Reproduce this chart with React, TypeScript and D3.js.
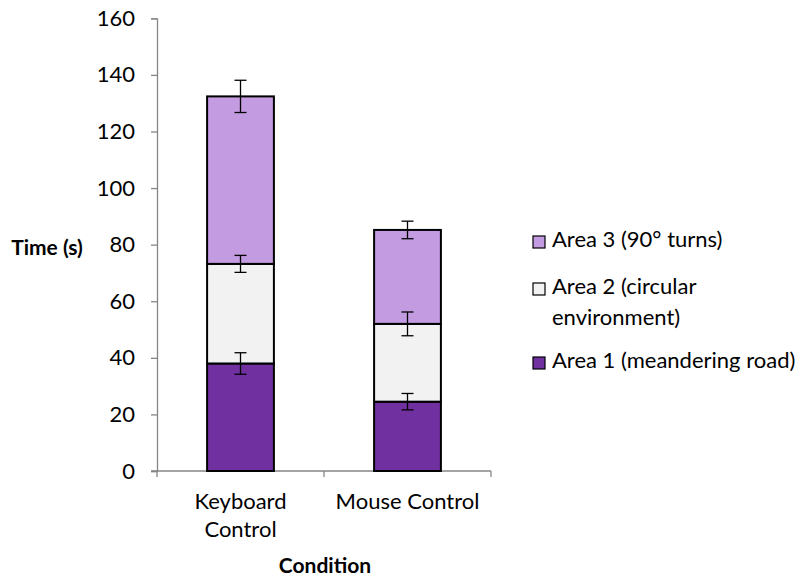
import { useRef, useEffect } from "react";
import * as d3 from "d3";

const categories = ["Keyboard Control", "Mouse Control"];
const categoryLines = [["Keyboard", "Control"], ["Mouse Control"]];
const area1 = [38, 24.5];
const area2 = [35.2, 27.5];
const area3 = [59.2, 33.2];
const err1 = [3.8, 2.9];
const err2 = [3.0, 4.2];
const err3 = [5.7, 3.1];
const yTicks = [0, 20, 40, 60, 80, 100, 120, 140, 160];
const legendLines = [["Area 1 (meandering road)"], ["Area 2 (circular", "environment)"], ["Area 3 (90° turns)"]];

const fills = ["#7030a0", "#f2f2f2", "#c39be0"];
const FONT = "Lato, 'Open Sans', sans-serif";

function App() {
  const ref = useRef<SVGSVGElement | null>(null);
  const width = 806;
  const height = 578;

  useEffect(() => {
    if (!ref.current) return;
    const svg = d3.select(ref.current).html("");
    svg.style("font-family", FONT);

    const left = 157;
    const right = 491;
    const top = 18.3;
    const bottom = 471;

    const x = d3.scaleBand().domain(categories).range([left, right]).paddingInner(0.6).paddingOuter(0.3);
    const y = d3.scaleLinear().domain([0, 160]).range([bottom, top]);

    const values = [area1, area2, area3];
    const errs = [err1, err2, err3];

    // axes
    const gy = svg.append("g").attr("transform", `translate(${left},0)`)
      .call(d3.axisLeft(y).tickValues(yTicks).tickSize(6).tickPadding(16));
    gy.select(".domain").attr("stroke", "#868686").attr("stroke-width", 1.3);
    gy.selectAll(".tick line").attr("stroke", "#868686").attr("stroke-width", 1.3);
    gy.selectAll(".tick text").attr("font-size", 22).attr("font-family", FONT).attr("fill", "#000");

    const gx = svg.append("g").attr("transform", `translate(0,${bottom})`);
    gx.append("line").attr("x1", left - 6).attr("x2", right).attr("stroke", "#868686").attr("stroke-width", 1.3);
    const step = (right - left) / categories.length;
    d3.range(categories.length + 1).forEach((i) => {
      gx.append("line").attr("x1", left + i * step).attr("x2", left + i * step)
        .attr("y1", 0).attr("y2", 6).attr("stroke", "#868686").attr("stroke-width", 1.3);
    });

    // stacked bars
    categories.forEach((c, ci) => {
      let base = 0;
      values.forEach((vals, si) => {
        const v = vals[ci];
        svg.append("rect")
          .attr("x", x(c)!)
          .attr("width", x.bandwidth())
          .attr("y", y(base + v))
          .attr("height", y(base) - y(base + v))
          .attr("fill", fills[si])
          .attr("stroke", "#000")
          .attr("stroke-width", 2);
        base += v;
      });
    });

    // error bars
    categories.forEach((c, ci) => {
      let base = 0;
      values.forEach((vals, si) => {
        base += vals[ci];
        const e = errs[si][ci];
        const cx = x(c)! + x.bandwidth() / 2;
        const g = svg.append("g").attr("stroke", "#000").attr("stroke-width", 1.3);
        g.append("line").attr("x1", cx).attr("x2", cx).attr("y1", y(base + e)).attr("y2", y(base - e));
        g.append("line").attr("x1", cx - 6).attr("x2", cx + 6).attr("y1", y(base + e)).attr("y2", y(base + e));
        g.append("line").attr("x1", cx - 6).attr("x2", cx + 6).attr("y1", y(base - e)).attr("y2", y(base - e));
      });
    });

    // category labels
    categories.forEach((c, ci) => {
      const cx = x(c)! + x.bandwidth() / 2;
      categoryLines[ci].forEach((t, li) => {
        svg.append("text").attr("x", cx).attr("y", 509 + li * 28)
          .attr("text-anchor", "middle").attr("font-size", 22).text(t);
      });
    });

    // axis titles
    svg.append("text").attr("x", 47).attr("y", 255).attr("text-anchor", "middle")
      .attr("font-size", 21).attr("font-weight", "bold").text("Time (s)");
    svg.append("text").attr("x", 325).attr("y", 573).attr("text-anchor", "middle")
      .attr("font-size", 21).attr("font-weight", "bold").text("Condition");

    // legend
    const legendOrder = [2, 1, 0];
    const legendY = [247, 294, 368];
    legendOrder.forEach((si, k) => {
      const by = legendY[k];
      svg.append("rect").attr("x", 533).attr("y", by - 11).attr("width", 12).attr("height", 12)
        .attr("fill", fills[si]).attr("stroke", "#000").attr("stroke-width", 1.2);
      legendLines[si].forEach((t, li) => {
        svg.append("text").attr("x", 552).attr("y", by + li * 31)
          .attr("font-size", 22).text(t);
      });
    });
  }, []);

  return (
    <svg
      ref={ref}
      width={width}
      height={height}
      style={{ position: "absolute", left: 0, top: 0, display: "block" }}
    ></svg>
  );
}

export default App;
